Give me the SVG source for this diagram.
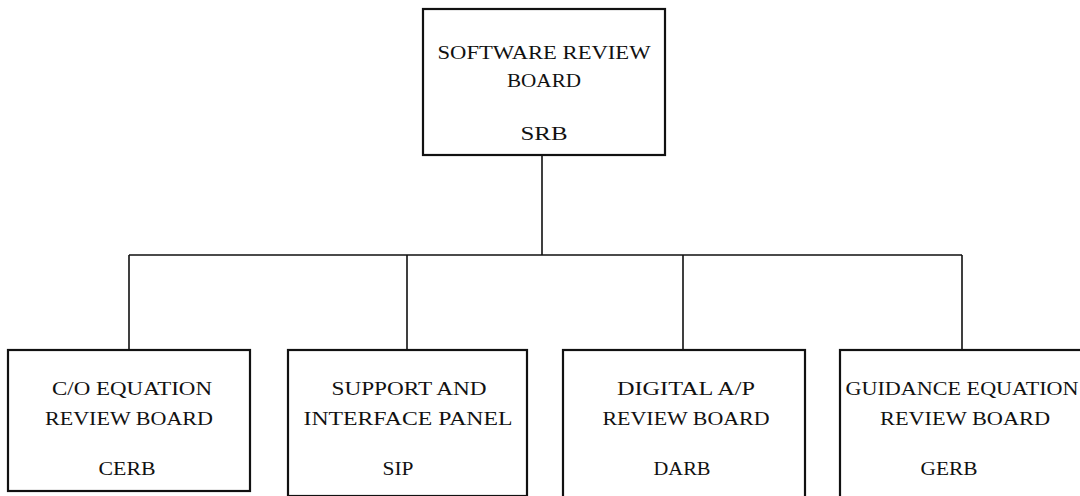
<svg xmlns="http://www.w3.org/2000/svg" width="1080" height="496" viewBox="0 0 1080 496">
<style>
.box{fill:#fff;stroke:#111;stroke-width:2.2}
.con{fill:none;stroke:#111;stroke-width:1.6}
text{font-family:"Liberation Serif","DejaVu Serif",serif;font-size:19.5px;fill:#111;text-anchor:middle}
</style>
<rect width="1080" height="496" fill="#fff"/>
<g id="connectors">
<path class="con" d="M542 155V255M129 255H962M129 255V350M407 255V350M683 255V350M962 255V350"/>
</g>
<g id="srb">
<rect class="box" x="423" y="9" width="242" height="146"/>
<text x="544" y="59" textLength="213" lengthAdjust="spacingAndGlyphs">SOFTWARE REVIEW</text>
<text x="544" y="87" textLength="74" lengthAdjust="spacingAndGlyphs">BOARD</text>
<text x="544" y="140" textLength="47" lengthAdjust="spacingAndGlyphs">SRB</text>
</g>
<g id="cerb">
<rect class="box" x="8" y="350" width="242" height="141"/>
<text x="132" y="395" textLength="160" lengthAdjust="spacingAndGlyphs">C/O EQUATION</text>
<text x="129" y="425" textLength="168" lengthAdjust="spacingAndGlyphs">REVIEW BOARD</text>
<text x="127" y="475" textLength="57" lengthAdjust="spacingAndGlyphs">CERB</text>
</g>
<g id="sip">
<rect class="box" x="288" y="350" width="239" height="146"/>
<text x="409" y="395" textLength="155" lengthAdjust="spacingAndGlyphs">SUPPORT AND</text>
<text x="408" y="425" textLength="209" lengthAdjust="spacingAndGlyphs">INTERFACE PANEL</text>
<text x="398" y="475" textLength="31" lengthAdjust="spacingAndGlyphs">SIP</text>
</g>
<g id="darb">
<rect class="box" x="563" y="350" width="242" height="148"/>
<text x="686" y="395" textLength="138" lengthAdjust="spacingAndGlyphs">DIGITAL A/P</text>
<text x="686" y="425" textLength="167" lengthAdjust="spacingAndGlyphs">REVIEW BOARD</text>
<text x="682" y="475" textLength="57" lengthAdjust="spacingAndGlyphs">DARB</text>
</g>
<g id="gerb">
<rect class="box" x="840" y="350" width="244" height="148"/>
<text x="962" y="395" textLength="233" lengthAdjust="spacingAndGlyphs">GUIDANCE EQUATION</text>
<text x="965" y="425" textLength="170" lengthAdjust="spacingAndGlyphs">REVIEW BOARD</text>
<text x="949" y="475" textLength="57" lengthAdjust="spacingAndGlyphs">GERB</text>
</g>
</svg>
